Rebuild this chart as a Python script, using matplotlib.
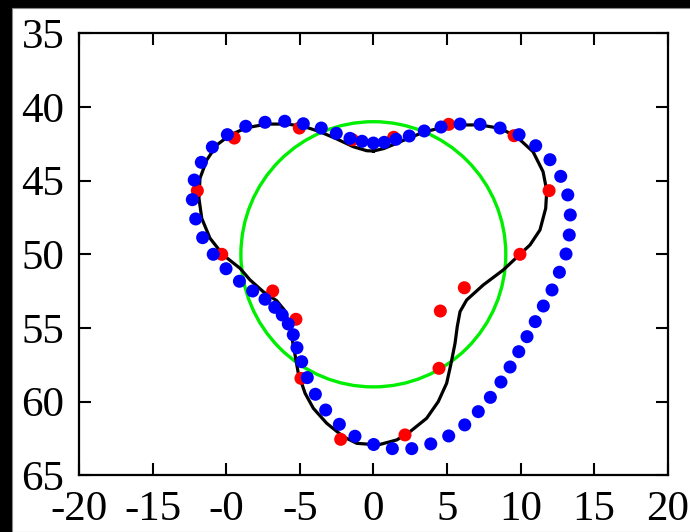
import matplotlib
matplotlib.use('Agg')
import matplotlib.pyplot as plt
from matplotlib.patches import Circle, Rectangle

# measured outline (blue), fitted contour (black), control points (red)
blue_x = [0.00, 0.74, 1.54, 2.44, 3.46, 4.60, 5.89, 7.25, 8.61, 9.90, 11.03, 12.00,
          12.73, 13.21, 13.38, 13.31, 13.09, 12.64, 12.14, 11.55, 11.00, 10.44, 9.88,
          9.29, 8.67, 7.95, 7.13, 6.21, 5.12, 3.90, 2.61, 1.29, 0.02, -1.25, -2.31,
          -3.24, -3.94, -4.49, -4.87, -5.19, -5.44, -5.78, -6.19, -6.70, -7.36, -8.20,
          -9.10, -10.01, -10.88, -11.60, -12.07, -12.30, -12.17, -11.69, -10.94, -9.92,
          -8.67, -7.36, -6.02, -4.76, -3.54, -2.52, -1.59, -0.77]
blue_y = [42.45, 42.40, 42.19, 41.97, 41.63, 41.36, 41.16, 41.18, 41.43, 41.88, 42.63, 43.58,
          44.71, 45.97, 47.33, 48.69, 49.98, 51.22, 52.42, 53.51, 54.57, 55.59, 56.61,
          57.65, 58.67, 59.71, 60.68, 61.58, 62.33, 62.87, 63.19, 63.19, 62.91, 62.35, 61.54,
          60.57, 59.50, 58.37, 57.29, 56.34, 55.46, 54.73, 54.12, 53.60, 53.05, 52.49,
          51.83, 50.98, 50.00, 48.87, 47.60, 46.29, 44.96, 43.76, 42.72, 41.88,
          41.31, 41.04, 40.97, 41.14, 41.43, 41.79, 42.13, 42.33]

red_x = [-9.45, -11.96, -10.30, -5.03, -1.43, 1.38, 5.12, 9.56, 11.94, 9.96, 6.18, 4.55,
         4.46, 2.15, -6.84, -5.26, -4.92, -2.22]
red_y = [42.11, 45.68, 50.00, 41.43, 42.22, 42.06, 41.18, 41.95, 45.68, 50.00, 52.27, 53.85,
         57.74, 62.26, 52.49, 54.41, 58.42, 62.56]

curve_x = [0.00, 0.72, 1.54, 2.42, 3.44, 4.60, 5.89, 7.25, 8.61, 9.74, 10.85, 11.53, 11.78,
           11.71, 11.32, 10.64, 9.96, 8.83, 7.47, 6.34, 5.89, 5.70, 5.55, 5.28, 4.98, 4.41,
           3.62, 2.49, 1.59, 0.32, -1.13, -2.04, -3.17, -4.08, -4.64, -5.10, -5.32, -5.51,
           -5.66, -6.05, -6.57, -7.48, -8.38, -9.06, -10.20, -11.10, -11.66, -11.85, -11.78,
           -11.32, -10.64, -9.74, -8.61, -7.25, -5.89, -4.76, -3.63, -2.49, -1.36, -0.45, 0.00]
curve_y = [42.99, 42.82, 42.48, 42.11, 41.70, 41.41, 41.22, 41.22, 41.45, 42.02, 43.04, 44.39,
           45.68, 46.88, 48.35, 49.37, 50.00, 51.06, 52.08, 53.10, 53.89, 54.91, 56.04, 57.40,
           58.75, 60.00, 61.13, 62.04, 62.60, 62.94, 62.83, 62.38, 61.47, 60.45, 59.43, 58.08,
           56.83, 55.82, 54.91, 53.78, 53.15, 52.54, 51.74, 50.95, 50.05, 48.91, 47.56, 46.20,
           44.84, 43.60, 42.58, 41.90, 41.41, 41.16, 41.16, 41.31, 41.68, 42.17, 42.70, 42.97,
           42.99]

circle_center = (0.0, 50.0)
circle_radius = 9.0

xticks = [-20, -15, -10, -5, 0, 5, 10, 15, 20]
xtick_labels = ['-20', '-15', '-0', '-5', '0', '5', '10', '15', '20']
yticks = [35, 40, 45, 50, 55, 60, 65]

plt.rcParams['font.family'] = ['Liberation Serif', 'DejaVu Serif']

fig = plt.figure(figsize=(6.9, 5.32), dpi=100, facecolor='black')
fig.patches.append(Rectangle((12 / 690, 0), 1, (532 - 7.5) / 532, transform=fig.transFigure,
                             facecolor='white', edgecolor='#888888', linewidth=0.8, zorder=-5))
ax = fig.add_axes([0.1145, 0.1066, 0.8532, 0.8308])
ax.set_facecolor('white')

ax.add_patch(Circle(circle_center, circle_radius, fill=False, edgecolor='#00ee00',
                    linewidth=2.4, zorder=2))
ax.plot(curve_x, curve_y, color='black', linewidth=2.3, zorder=3)
ax.scatter(red_x, red_y, s=88, color='#ff0000', edgecolors='none', zorder=4)
ax.scatter(blue_x, blue_y, s=88, color='#0000ff', edgecolors='none', zorder=5)

ax.set_xlim(-20, 20)
ax.set_ylim(65, 35)
ax.set_xticks(xticks)
ax.set_xticklabels(xtick_labels)
ax.set_yticks(yticks)
ax.tick_params(direction='in', length=8.5, width=1.5, top=True, right=True,
               labelsize=31, colors='black')
ax.tick_params(axis='x', pad=11)
ax.tick_params(axis='y', pad=10.5)
for sp in ax.spines.values():
    sp.set_linewidth(1.6)
    sp.set_color('black')

fig.savefig('out.png', dpi=100, facecolor=fig.get_facecolor())
